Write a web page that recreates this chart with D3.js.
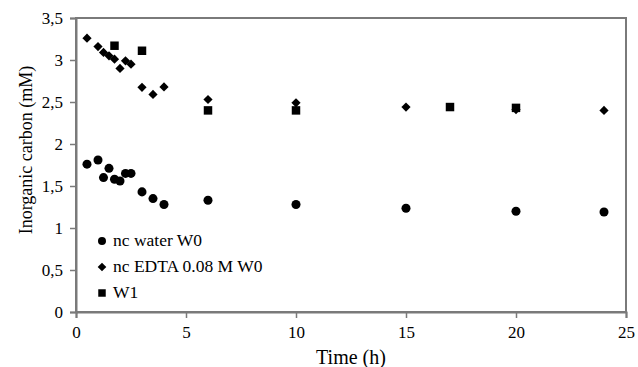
<!DOCTYPE html>
<html><head><meta charset="utf-8">
<script src="https://cdn.jsdelivr.net/npm/d3@7"></script>
<style>
* { font-family: 'Liberation Serif' !important; }
body { margin: 0; }
</style>
</head><body><svg id="c" width="638" height="367"></svg>
<script>
const waterX = [0.5,1,1.25,1.5,1.75,2,2.25,2.5,3,3.5,4,6,10,15,20,24];
const waterY = [1.76,1.81,1.60,1.71,1.58,1.56,1.65,1.65,1.43,1.35,1.28,1.33,1.28,1.235,1.20,1.19];
const edtaX = [0.5,1,1.25,1.5,1.75,2,2.25,2.5,3,3.5,4,6,10,15,20,24];
const edtaY = [3.26,3.16,3.09,3.05,3.01,2.90,2.99,2.95,2.675,2.59,2.68,2.53,2.49,2.44,2.41,2.40];
const w1X = [1.75,3,6,10,17,20];
const w1Y = [3.17,3.11,2.40,2.40,2.44,2.43];
const seriesNames = ["nc water W0","nc EDTA 0.08 M W0","W1"];
const xTicks = [0,5,10,15,20,25];
const yTicks = [0,0.5,1,1.5,2,2.5,3,3.5];

const svg = d3.select("#c");
const L=76,R=626,T=18,B=312;
const x = d3.scaleLinear().domain([0,25]).range([L,R]);
const y = d3.scaleLinear().domain([0,3.5]).range([B,T]);
const axisCol="#7a7a7a";

svg.append("rect").attr("x",L).attr("y",T).attr("width",R-L).attr("height",B-T)
  .attr("fill","none").attr("stroke",axisCol).attr("stroke-width",2);

const fmt = d => String(d).replace(".",",");
const gx = svg.append("g").attr("transform",`translate(0,${B})`)
  .call(d3.axisBottom(x).tickValues(xTicks).tickSize(6).tickPadding(8).tickFormat(fmt));
const gy = svg.append("g").attr("transform",`translate(${L},0)`)
  .call(d3.axisLeft(y).tickValues(yTicks).tickSize(6).tickPadding(7).tickFormat(fmt));
[gx,gy].forEach(g=>{
  g.attr("font-family",null).attr("font-size",17);
  g.select(".domain").attr("stroke",axisCol).attr("stroke-width",2);
  g.selectAll(".tick line").attr("stroke",axisCol).attr("stroke-width",1.5);
  g.selectAll(".tick text").attr("fill","#000");
});

const diamond = r => `M0,${-r}L${r},0L0,${r}L${-r},0Z`;
const sym = {
  circle: d3.symbol().type(d3.symbolCircle).size(64)(),
  diamond: diamond(4.6),
  square: d3.symbol().type(d3.symbolSquare).size(72)()
};
const series = [
  {xs:waterX, ys:waterY, s:sym.circle},
  {xs:edtaX, ys:edtaY, s:sym.diamond},
  {xs:w1X, ys:w1Y, s:sym.square}
];
series.forEach(se=>{
  svg.append("g").selectAll("path").data(se.xs.map((v,i)=>[v,se.ys[i]])).join("path")
    .attr("d",se.s).attr("fill","#000")
    .attr("transform",d=>`translate(${x(d[0])},${y(d[1])})`);
});

const lg = svg.append("g");
const legSyms=[
  d3.symbol().type(d3.symbolCircle).size(50)(),
  diamond(4.3),
  d3.symbol().type(d3.symbolSquare).size(56)()];
seriesNames.forEach((n,i)=>{
  const cy = 241 + i*26;
  lg.append("path").attr("d",legSyms[i]).attr("fill","#000").attr("transform",`translate(102,${cy})`);
  lg.append("text").attr("x",113).attr("y",cy+5).attr("font-size",17.5).text(n);
});

svg.append("text").attr("x",(L+R)/2).attr("y",364).attr("text-anchor","middle")
  .attr("font-size",20).text("Time (h)");
svg.append("text").attr("transform",`translate(32,150) rotate(-90)`).attr("text-anchor","middle")
  .attr("font-size",18).text("Inorganic carbon (mM)");
</script></body></html>
